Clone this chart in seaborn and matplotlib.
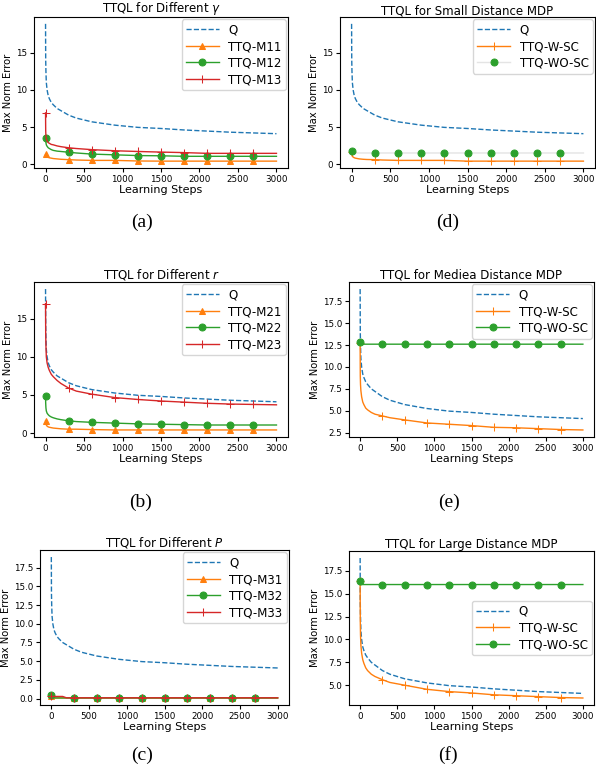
"""Six-panel TTQL error curves (Q vs TTQ variants) with (a)-(f) captions."""
import matplotlib

matplotlib.use("Agg")
import matplotlib.pyplot as plt
import seaborn as sns

# -------------------- data --------------------

STEPS = [0, 2, 5, 10, 20, 35, 50, 75, 100, 150, 200, 300, 400, 600,
         900, 1200, 1500, 1800, 2100, 2400, 2700, 3000]

Q = [18.9, 14.0, 12.5, 11.0, 10.0, 9.2, 8.8, 8.3, 8.0, 7.5, 7.2, 6.6, 6.2, 5.7,
     5.25, 4.95, 4.8, 4.6, 4.45, 4.3, 4.2, 4.1]

# (a) different gamma
M11 = [1.3, 1.2, 1.1, 1.0, 0.95, 0.9, 0.85, 0.8, 0.75, 0.7, 0.65, 0.6, 0.55, 0.5,
       0.5, 0.42, 0.4, 0.4, 0.4, 0.4, 0.4, 0.4]
M12 = [3.5, 3.2, 2.9, 2.6, 2.4, 2.2, 2.1, 1.95, 1.85, 1.75, 1.7, 1.6, 1.5, 1.35,
       1.25, 1.15, 1.12, 1.05, 1.05, 1.05, 1.05, 1.05]
M13 = [6.9, 4.5, 3.8, 3.4, 3.1, 2.9, 2.8, 2.65, 2.6, 2.45, 2.35, 2.2, 2.1, 1.95,
       1.8, 1.7, 1.62, 1.55, 1.45, 1.45, 1.45, 1.45]

# (b) different r
M21 = [1.6, 1.4, 1.2, 1.05, 0.9, 0.8, 0.75, 0.7, 0.65, 0.6, 0.55, 0.5, 0.5, 0.45,
       0.4, 0.4, 0.4, 0.4, 0.4, 0.4, 0.4, 0.4]
M22 = [4.8, 3.9, 3.3, 2.9, 2.6, 2.4, 2.25, 2.1, 2.0, 1.85, 1.75, 1.6, 1.5, 1.4,
       1.3, 1.2, 1.15, 1.1, 1.05, 1.05, 1.05, 1.05]
M23 = [17.0, 13.0, 11.5, 10.0, 9.2, 8.6, 8.2, 7.7, 7.4, 6.9, 6.5, 5.9, 5.5, 5.1,
       4.65, 4.4, 4.2, 4.05, 3.9, 3.8, 3.75, 3.7]

# (c) different P
M31 = [0.35, 0.3, 0.25, 0.2, 0.15, 0.1, 0.1, 0.1, 0.1, 0.1, 0.1, 0.1, 0.1, 0.1,
       0.1, 0.1, 0.1, 0.1, 0.1, 0.1, 0.1, 0.1]
M32 = [0.5, 0.4, 0.3, 0.25, 0.2, 0.15, 0.1, 0.1, 0.1, 0.1, 0.1, 0.1, 0.1, 0.1,
       0.1, 0.1, 0.1, 0.1, 0.1, 0.1, 0.1, 0.1]
M33 = [0.35, 0.3, 0.3, 0.3, 0.3, 0.3, 0.3, 0.3, 0.3, 0.3, 0.12, 0.12, 0.12, 0.12,
       0.12, 0.12, 0.12, 0.12, 0.12, 0.12, 0.12, 0.12]

# (d) small distance
SMALL_W = [1.6, 1.4, 1.2, 1.05, 0.95, 0.85, 0.8, 0.75, 0.7, 0.65, 0.62, 0.6, 0.55, 0.5,
           0.5, 0.5, 0.4, 0.4, 0.4, 0.4, 0.4, 0.4]
SMALL_WO = [1.7, 1.6, 1.55, 1.5, 1.5, 1.5, 1.5, 1.5, 1.5, 1.5, 1.5, 1.5, 1.5, 1.5,
            1.5, 1.5, 1.5, 1.5, 1.5, 1.5, 1.5, 1.5]

# (e) medium distance
MED_W = [12.7, 9.0, 8.0, 7.3, 6.6, 6.0, 5.7, 5.3, 5.1, 4.8, 4.6, 4.4, 4.2, 3.95,
         3.6, 3.45, 3.3, 3.1, 3.05, 2.95, 2.85, 2.8]
MED_WO = [12.8, 12.6, 12.6, 12.6, 12.6, 12.6, 12.6, 12.6, 12.6, 12.6, 12.6, 12.6, 12.6, 12.6,
          12.6, 12.6, 12.6, 12.6, 12.6, 12.6, 12.6, 12.6]

# (f) large distance
LARGE_W = [16.4, 12.0, 10.5, 9.4, 8.5, 7.8, 7.4, 6.9, 6.6, 6.2, 5.95, 5.6, 5.3, 5.0,
           4.55, 4.3, 4.15, 3.95, 3.85, 3.75, 3.65, 3.6]
LARGE_WO = [16.4, 16.0, 16.0, 16.0, 16.0, 16.0, 16.0, 16.0, 16.0, 16.0, 16.0, 16.0, 16.0, 16.0,
            16.0, 16.0, 16.0, 16.0, 16.0, 16.0, 16.0, 16.0]

BLUE, ORANGE, GREEN, RED = "#1f77b4", "#ff7f0e", "#2ca02c", "#d62728"
MARK_IDX = [i for i, s in enumerate(STEPS) if s % 300 == 0 and s < 3000]

W, H = 596, 770


def box(left, right, top, bottom):
    return [left / W, 1 - bottom / H, (right - left) / W, (bottom - top) / H]


def draw_line(ax, y, color, label, marker=None, ls="-", ms=5, line_color=None):
    sns.lineplot(x=STEPS, y=y, ax=ax, color=line_color or color, linestyle=ls,
                 linewidth=1.0, marker=marker, markersize=ms, markevery=MARK_IDX,
                 markerfacecolor=color, markeredgecolor=color, label=label,
                 estimator=None, sort=False)


def style_axes(ax, title, legend_loc="upper right"):
    ax.set_title(title, fontsize=8.5, pad=2)
    ax.set_xlabel("Learning Steps", fontsize=8, labelpad=1)
    ax.set_ylabel("Max Norm Error", fontsize=7.2, labelpad=2)
    ax.set_xticks([0, 500, 1000, 1500, 2000, 2500, 3000])
    ax.tick_params(labelsize=6.3, length=3, pad=2)
    ax.legend(loc=legend_loc, fontsize=8.5, handlelength=2.8, labelspacing=0.3,
              borderpad=0.35, borderaxespad=0.2, framealpha=0.8)


fig = plt.figure(figsize=(W / 100, H / 100), dpi=100)

# (a)
ax = fig.add_axes(box(34, 288, 17, 168))
draw_line(ax, Q, BLUE, "Q", ls="--", marker=None)
draw_line(ax, M11, ORANGE, "TTQ-M11", marker="^")
draw_line(ax, M12, GREEN, "TTQ-M12", marker="o")
draw_line(ax, M13, RED, "TTQ-M13", marker="+", ms=6)
ax.set_yticks([0, 5, 10, 15])
style_axes(ax, r"TTQL for Different $\gamma$")

# (d)
ax = fig.add_axes(box(340, 595, 17, 168))
draw_line(ax, Q, BLUE, "Q", ls="--")
draw_line(ax, SMALL_W, ORANGE, "TTQ-W-SC", marker="+", ms=6)
draw_line(ax, SMALL_WO, GREEN, "TTQ-WO-SC", marker="o", line_color="#e4e4e4")
ax.set_yticks([0, 5, 10, 15])
style_axes(ax, "TTQL for Small Distance MDP")

# (b)
ax = fig.add_axes(box(34, 288, 282, 437))
draw_line(ax, Q, BLUE, "Q", ls="--")
draw_line(ax, M21, ORANGE, "TTQ-M21", marker="^")
draw_line(ax, M22, GREEN, "TTQ-M22", marker="o")
draw_line(ax, M23, RED, "TTQ-M23", marker="+", ms=6)
ax.set_yticks([0, 5, 10, 15])
style_axes(ax, r"TTQL for Different $r$")

# (e)
ax = fig.add_axes(box(349, 594, 282, 437))
draw_line(ax, Q, BLUE, "Q", ls="--")
draw_line(ax, MED_W, ORANGE, "TTQ-W-SC", marker="+", ms=6)
draw_line(ax, MED_WO, GREEN, "TTQ-WO-SC", marker="o")
ax.set_yticks([2.5, 5.0, 7.5, 10.0, 12.5, 15.0, 17.5])
style_axes(ax, "TTQL for Mediea Distance MDP")

# (c)
ax = fig.add_axes(box(40, 289, 550, 705))
draw_line(ax, Q, BLUE, "Q", ls="--")
draw_line(ax, M31, ORANGE, "TTQ-M31", marker="^")
draw_line(ax, M32, GREEN, "TTQ-M32", marker="o")
draw_line(ax, M33, RED, "TTQ-M33", marker="+", ms=6)
ax.set_yticks([0.0, 2.5, 5.0, 7.5, 10.0, 12.5, 15.0, 17.5])
style_axes(ax, r"TTQL for Different $P$")

# (f)
ax = fig.add_axes(box(349, 594, 551, 705))
draw_line(ax, Q, BLUE, "Q", ls="--")
draw_line(ax, LARGE_W, ORANGE, "TTQ-W-SC", marker="+", ms=6)
draw_line(ax, LARGE_WO, GREEN, "TTQ-WO-SC", marker="o")
ax.set_yticks([5.0, 7.5, 10.0, 12.5, 15.0, 17.5])
style_axes(ax, "TTQL for Large Distance MDP", legend_loc="center right")

# captions
for label, x, y in [("(a)", 142, 222), ("(d)", 448, 222),
                    ("(b)", 141, 502), ("(e)", 449, 502),
                    ("(c)", 142, 755), ("(f)", 448, 755)]:
    fig.text(x / W, 1 - y / H, label, ha="center", va="center",
             fontsize=14, family=["Liberation Serif", "DejaVu Serif"])

fig.savefig("out.png", dpi=100)
